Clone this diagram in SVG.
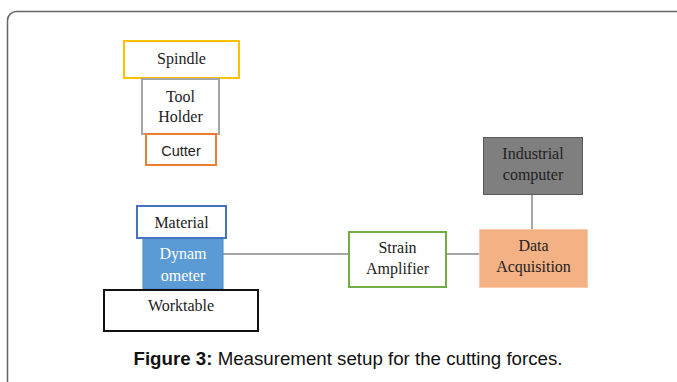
<svg xmlns="http://www.w3.org/2000/svg" width="677" height="382" viewBox="0 0 677 382">
<style>
.t{font-family:"Liberation Serif","Times New Roman",serif;font-size:16px;fill:#222;text-anchor:middle}
.box{stroke-width:2}
.c{stroke:#888;stroke-width:1.5;fill:none}
.cap{font-family:"Liberation Sans",Arial,sans-serif;font-size:18.7px;fill:#111;text-anchor:middle}
</style>
<rect x="7.5" y="11.5" width="700" height="400" rx="9" fill="#fff" stroke="#666" stroke-width="1.5"/>
<g id="connectors">
<line class="c" x1="223" y1="254" x2="348" y2="254" stroke="#555"/>
<line class="c" x1="447" y1="254" x2="479" y2="254"/>
<line class="c" x1="532" y1="194" x2="532" y2="229"/>
</g>
<g id="spindle"><rect class="box" x="124" y="41" width="115" height="37" fill="#fff" stroke="#FFC000"/><text class="t" x="181.5" y="64">Spindle</text></g>
<g id="toolholder"><rect class="box" x="142" y="79" width="77" height="55" fill="#fff" stroke="#A5A5A5"/><text class="t" x="180.5" y="102">Tool</text><text class="t" x="180.5" y="122">Holder</text></g>
<g id="cutter"><rect class="box" x="146" y="134" width="70" height="31" fill="#fff" stroke="#ED7D31"/><text class="t" x="181" y="156" style="font-family:'Liberation Sans',Arial,sans-serif;font-size:14.5px">Cutter</text></g>
<g id="dynamometer"><rect x="143" y="238" width="80" height="51" fill="#5B9BD5" stroke="#4A86C0" stroke-width="1"/><text class="t" x="183" y="259" style="fill:#fff">Dynam</text><text class="t" x="183" y="281" style="fill:#fff">ometer</text></g>
<g id="material"><rect class="box" x="137" y="206" width="89" height="32" fill="#fff" stroke="#4472C4"/><text class="t" x="181.5" y="228">Material</text></g>
<g id="worktable"><rect class="box" x="104" y="290" width="154" height="41" fill="#fff" stroke="#111"/><text class="t" x="181" y="311">Worktable</text></g>
<g id="strainamp"><rect class="box" x="349" y="232" width="97" height="55" fill="#fff" stroke="#70AD47"/><text class="t" x="397.5" y="253">Strain</text><text class="t" x="397.5" y="274">Amplifier</text></g>
<g id="dataacq"><rect x="479.5" y="229.5" width="108" height="58" fill="#F4B183" stroke="#F8CBAD" stroke-width="1"/><text class="t" x="533.5" y="251">Data</text><text class="t" x="533.5" y="272">Acquisition</text></g>
<g id="computer"><rect x="483.5" y="137.5" width="99" height="57" fill="#7F7F7F" stroke="#595959" stroke-width="1"/><text class="t" x="533" y="159">Industrial</text><text class="t" x="533" y="180">computer</text></g>
<text class="cap" x="348" y="365"><tspan font-weight="bold">Figure 3:</tspan> Measurement setup for the cutting forces.</text>
</svg>
